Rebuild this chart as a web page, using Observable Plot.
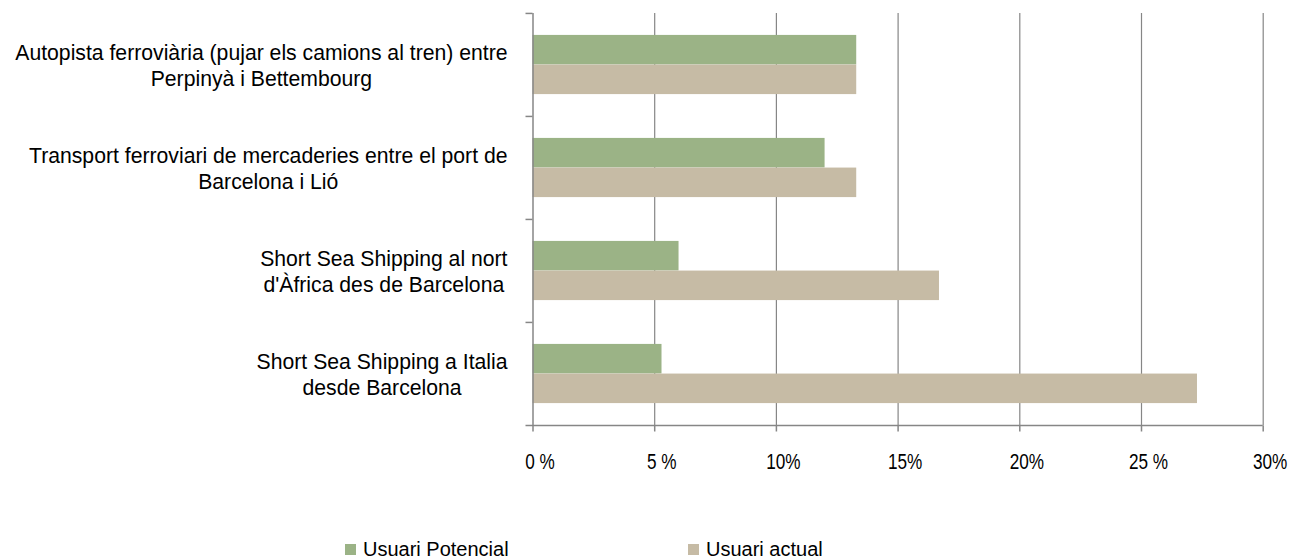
<!DOCTYPE html>
<html>
<head>
<meta charset="utf-8">
<script src="https://cdn.jsdelivr.net/npm/d3@7"></script>
<script src="https://cdn.jsdelivr.net/npm/@observablehq/plot@0.6"></script>
<style>
  body { margin: 0; background: #fff; font-family: "Liberation Sans", Arial, sans-serif; }
  #legend { position: relative; width: 1297px; height: 60px; }
  #legend .item { position: absolute; top: 37px; height: 24px; display: flex; align-items: center; font-size: 20px; color: #000; white-space: nowrap; }
  #legend .sw { width: 11px; height: 11px; margin-right: 7px; display: inline-block; }
</style>
</head>
<body>
<div id="chart"></div>
<div id="legend"></div>
<script>
// ---- data ----
const categories = [
  "Autopista ferroviària (pujar els camions al tren) entre\nPerpinyà i Bettembourg",
  "Transport ferroviari de mercaderies entre el port de\nBarcelona i Lió",
  "Short Sea Shipping al nort\nd'Àfrica des de Barcelona",
  "Short Sea Shipping a Italia\ndesde Barcelona"
];
const series = ["Usuari Potencial", "Usuari actual"];
const potencial = [13.3, 12.0, 6.0, 5.3];
const actual = [13.3, 13.3, 16.7, 27.3];
const tickValues = [0, 5, 10, 15, 20, 25, 30];
const tickLabels = ["0 %", "5 %", "10%", "15%", "20%", "25 %", "30%"];
const colors = ["#9BB386", "#C6BBA5"];

// ---- table ----
const rows = categories.flatMap((c, i) => [
  {category: c, series: series[0], value: potencial[i]},
  {category: c, series: series[1], value: actual[i]}
]);

// ---- layout ----
const W = 1297, H = 500;
const ML = 532.5, MR = 34.3, MT = 13, MB = 74.5;
const step = (H - MT - MB) / categories.length;
const pad = step * 0.2125, bar = step * 0.2875;
const gray = "#868686";
const labelSize = 21.2;

// measure label block widths to center lines within a right-aligned block
const ctx = document.createElement("canvas").getContext("2d");
ctx.font = labelSize + "px 'Liberation Sans'";
const blockWidth = categories.map(c => d3.max(c.split("\n"), l => ctx.measureText(l).width));
const blockRightGap = 25.5;

const labelMarks = categories.map((c, i) =>
  Plot.text([c], {
    y: d => d,
    text: d => d,
    frameAnchor: "left",
    textAnchor: "middle",
    lineAnchor: "middle",
    lineHeight: 26 / labelSize,
    fontSize: labelSize,
    fontFamily: "Liberation Sans, Arial, sans-serif",
    fill: "#000",
    dx: -(blockRightGap + blockWidth[i] / 2)
  })
);

const chart = Plot.plot({
  width: W,
  height: H,
  marginLeft: ML,
  marginRight: MR,
  marginTop: MT,
  marginBottom: MB,
  x: {domain: [0, 30], axis: null},
  y: {domain: categories, padding: 0, axis: null, label: null},
  color: {domain: series, range: colors},
  marks: [
    Plot.gridX(tickValues.slice(1), {stroke: gray, strokeOpacity: 1, strokeWidth: 1.2}),
    Plot.barX(rows.filter(d => d.series === series[0]), {
      x: "value", y: "category", fill: "series",
      insetTop: pad, insetBottom: step - pad - bar
    }),
    Plot.barX(rows.filter(d => d.series === series[1]), {
      x: "value", y: "category", fill: "series",
      insetTop: pad + bar, insetBottom: pad
    }),
    Plot.ruleX([0], {stroke: gray, strokeWidth: 1.5}),
    Plot.ruleY([categories[categories.length - 1]], {dy: step / 2, insetLeft: -7, stroke: gray, strokeWidth: 1.5}),
    Plot.axisY({tickSize: 7, tickFormat: () => "", dy: -step / 2, stroke: gray, strokeWidth: 1.5, label: null}),
    Plot.axisX(tickValues, {tickSize: 6, tickFormat: () => "", stroke: gray, strokeWidth: 1.5, label: null}),
    Plot.axisX(tickValues, {
      tickSize: 0, tickPadding: 27, fill: "#000",
      tickFormat: d => tickLabels[tickValues.indexOf(d)],
      fontSize: 22, fontFamily: "Liberation Sans, Arial, sans-serif",
      dx: 7, label: null, ariaLabel: "x-labels"
    }),
    ...labelMarks
  ]
});
document.getElementById("chart").appendChild(chart);

// narrow (condensed) rendering of the x tick labels, as in the original
d3.select(chart).selectAll("text").each(function () {
  const t = this.textContent;
  if (tickLabels.includes(t)) {
    const w = this.getComputedTextLength();
    d3.select(this).attr("textLength", w * 0.78).attr("lengthAdjust", "spacingAndGlyphs");
  }
});

// ---- legend ----
const legend = document.getElementById("legend");
const legendLeft = [345, 688];
series.forEach((s, i) => {
  const item = document.createElement("div");
  item.className = "item";
  item.style.left = legendLeft[i] + "px";
  const sw = document.createElement("span");
  sw.className = "sw";
  sw.style.background = colors[i];
  const t = document.createElement("span");
  t.textContent = s;
  item.appendChild(sw);
  item.appendChild(t);
  legend.appendChild(item);
});
</script>
</body>
</html>
